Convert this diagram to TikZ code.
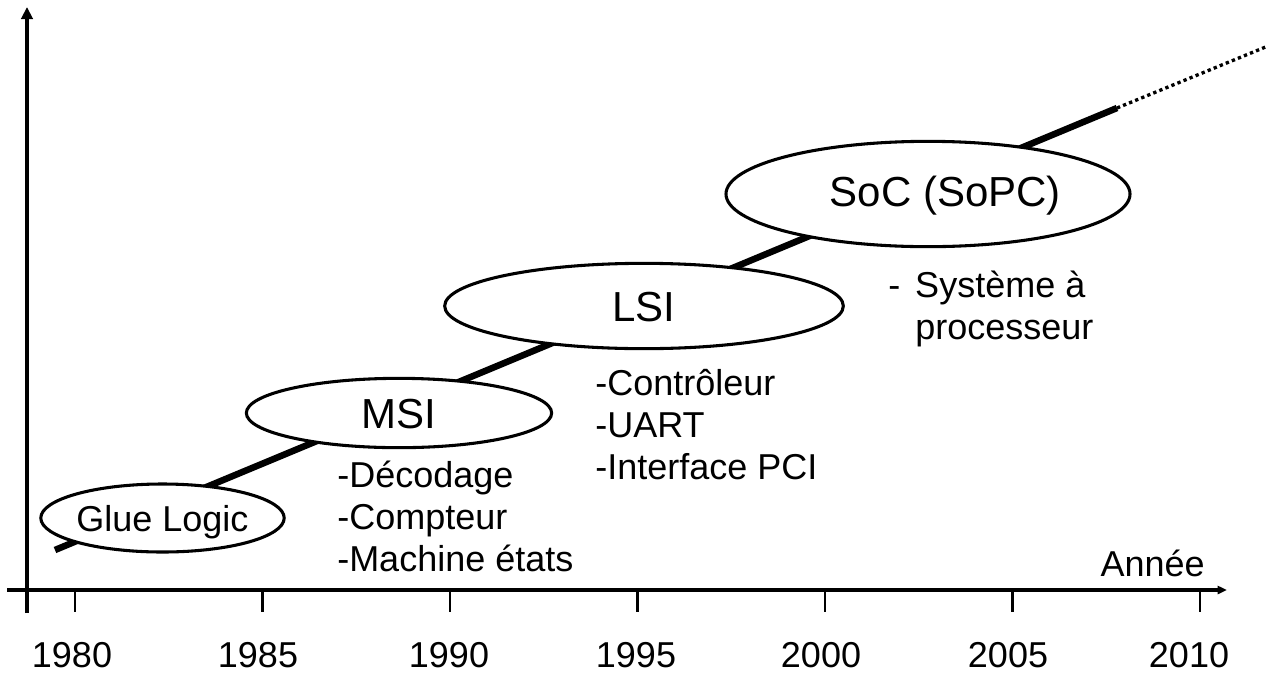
\documentclass[tikz,border=0pt]{standalone}
\usepackage{fontspec}
\setmainfont{Liberation Sans}
\usetikzlibrary{shapes.geometric,arrows.meta}

\begin{document}
\begin{tikzpicture}[x=0.75pt,y=-0.75pt,
  bubble/.style={ellipse, draw, line width=2.3pt, fill=white, inner sep=0pt},
  bigtxt/.style={font=\fontsize{31.5}{36}\selectfont, text height=22.6pt, text depth=0pt},
  smalltxt/.style={font=\fontsize{27}{31.5}\selectfont},
  listtxt/.style={font=\fontsize{27}{31.7}\selectfont, anchor=base west, inner sep=0pt},
  yeartxt/.style={font=\fontsize{27}{31.5}\selectfont, anchor=base, inner sep=0pt},
  axis/.style={line width=2.6pt},
  tickmark/.style={line width=1.9pt},
  trend/.style={line width=4.9pt},
  trendext/.style={line width=2.5pt, dash pattern=on 2.5pt off 2.4pt}
]
\useasboundingbox (0,0) rectangle (1273,675);

% axes
\coordinate (xstart) at (7,590);
\coordinate (xend) at (1227,590);
\coordinate (ystart) at (27,613);
\coordinate (yend) at (27,7);
\draw[axis, -{Triangle[length=7pt,width=6pt]}] (xstart) -- (xend);
\draw[axis, -{Triangle[length=9pt,width=8.5pt]}] (ystart) -- (yend);

% year ticks and labels
\foreach \tx/\lx/\yr in {75/72/1980, 262.5/258/1985, 450/449/1990, 637.5/636/1995,
                         825/821/2000, 1012.5/1008/2005, 1200/1189/2010}{
  \draw[tickmark] (\tx,590) -- (\tx,612);
  \node[yeartxt] (y\yr) at (\lx,667) {\yr};
}
\node[font=\fontsize{27}{31.5}\selectfont, anchor=base east, inner sep=0pt] (annee) at (1205,576) {Année};

% integration trend line
\coordinate (t0) at (55,550);
\coordinate (t1) at (1117,108);
\coordinate (t2) at (1268,46);
\draw[trend] (t0) -- (t1);
\draw[trendext] (t1) -- (t2);

% technology bubbles
\node[bubble, smalltxt, text height=19.5pt, text depth=0pt,
      minimum width=174pt, minimum height=51pt] (glue) at (162.5,518) {Glue Logic};
\node[bubble, bigtxt, minimum width=229pt, minimum height=52pt] (msi) at (399,413) {MSI};
\node[bubble, bigtxt, minimum width=299pt, minimum height=64pt] (lsi) at (644,306) {LSI};
\node[bubble, minimum width=303pt, minimum height=79pt,
      label={[bigtxt, xshift=13pt, yshift=2pt]center:SoC (SoPC)}] (soc) at (928,194) {};

% examples for each level
\node[listtxt] (msilist) at (337,487)
  {\vtop{\hbox{-Décodage}\hbox{-Compteur}\hbox{-Machine états}}};
\node[listtxt] (lsilist) at (595,395)
  {\vtop{\hbox{-Contrôleur}\hbox{-UART}\hbox{-Interface PCI}}};
\node[listtxt] (soclist) at (888,297)
  {\vtop{\hbox{\makebox[20.25pt][l]{-}Système à}\hbox{\hspace*{20.25pt}processeur}}};
\end{tikzpicture}
\end{document}
